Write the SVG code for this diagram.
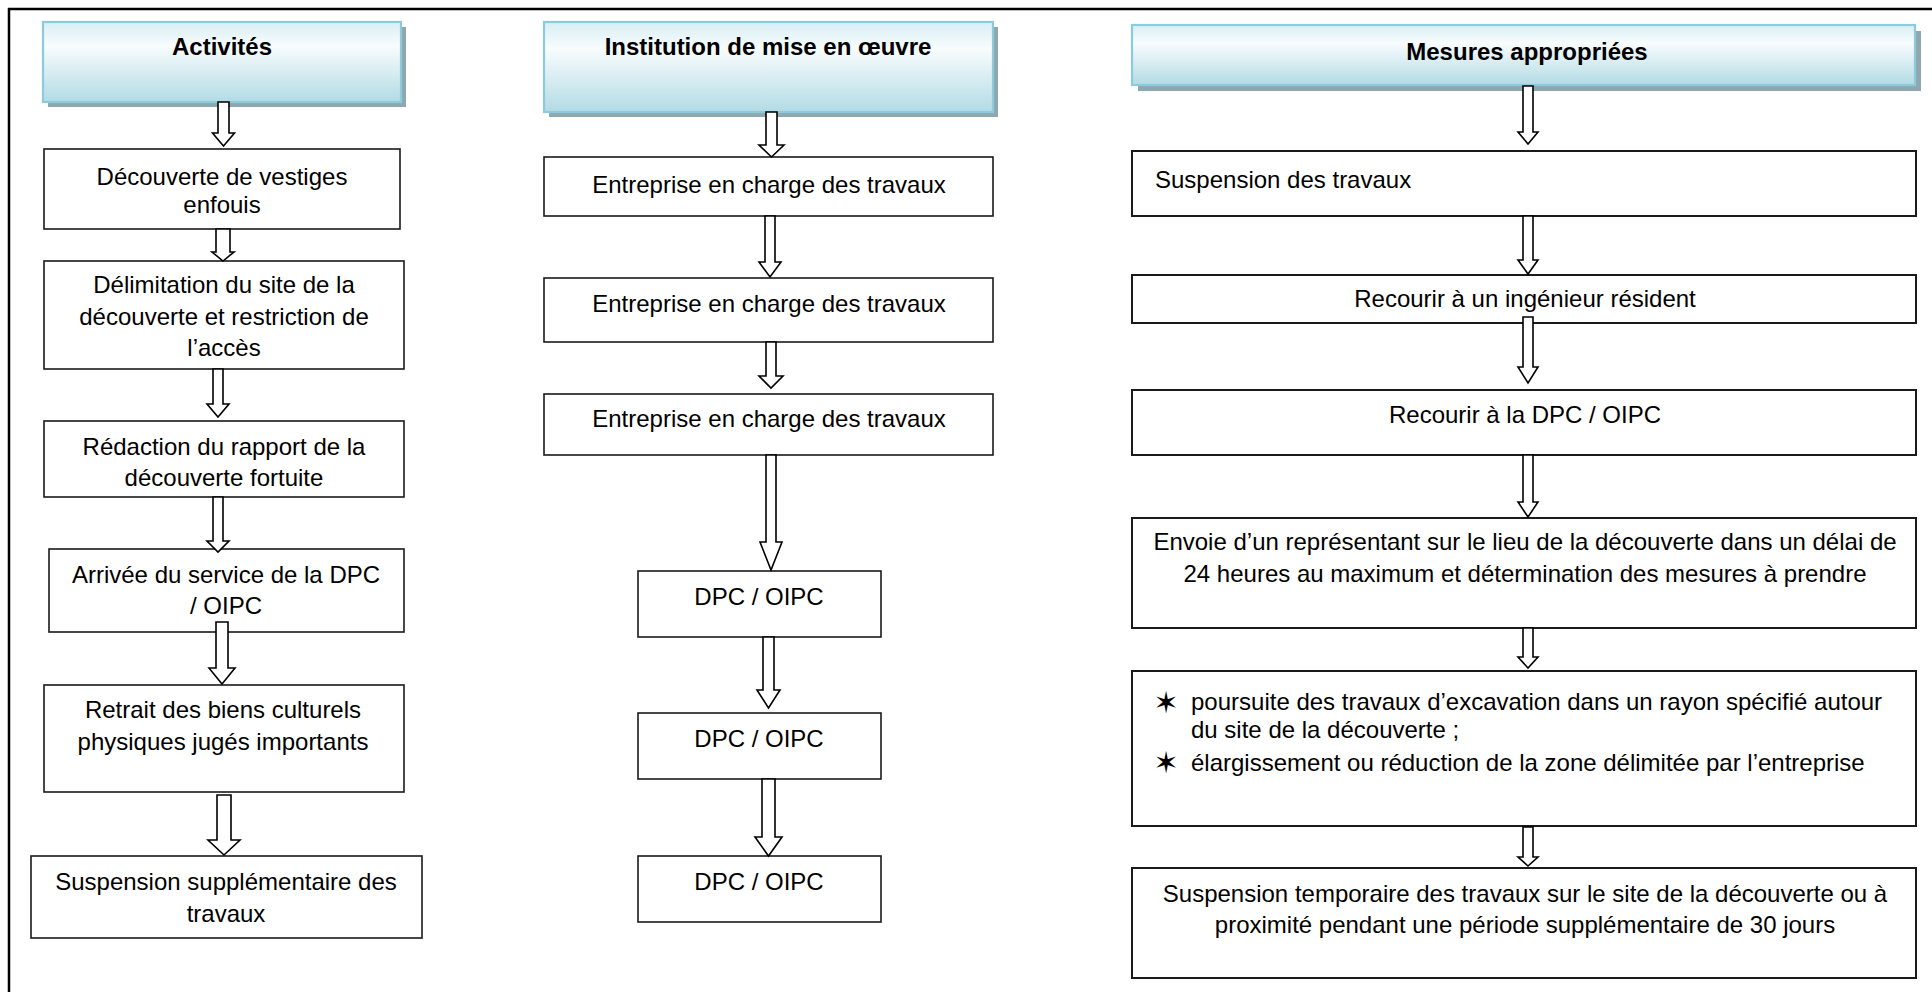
<svg xmlns="http://www.w3.org/2000/svg" width="1932" height="992" viewBox="0 0 1932 992">
<style>
.bg{fill:#ffffff}
.frame{stroke:#000;stroke-width:2.5;fill:none}
.box{fill:#fff;stroke:#1a1a1a;stroke-width:1.6}
.box3{fill:#fff;stroke:#1a1a1a;stroke-width:2}
.hdr{fill:url(#hg);stroke:#8ccbdc;stroke-width:2.2}
.shadow{fill:#8fa8b0}
.t{font-family:"Liberation Sans",Arial,sans-serif;font-size:24px;fill:#000}
.c{text-anchor:middle}
.b{font-weight:bold}
.star{font-family:"DejaVu Sans",sans-serif;font-size:30px;font-weight:bold;fill:#000;text-anchor:middle}
.arrow{fill:#fff;stroke:#000;stroke-width:1.6;stroke-linejoin:miter}
</style>
<defs>
<linearGradient id="hg" x1="0" y1="0" x2="0" y2="1">
<stop offset="0" stop-color="#d8eef4"/>
<stop offset="0.3" stop-color="#f8fcfd"/>
<stop offset="1" stop-color="#b2dbe5"/>
</linearGradient>
</defs>
<rect class="bg" x="0" y="0" width="1932" height="992"/>
<g id="frame">
<line class="frame" x1="8" y1="9" x2="1932" y2="9"/>
<line class="frame" x1="9" y1="8" x2="9" y2="992"/>
</g>

<g id="h1">
<rect class="shadow" x="48" y="27" width="358" height="80"/>
<rect class="hdr" x="43" y="22" width="358" height="80"/>
<text class="t c b" x="222" y="55">Activités</text>
</g>
<g id="h2">
<rect class="shadow" x="549" y="27" width="449" height="90"/>
<rect class="hdr" x="544" y="22" width="449" height="90"/>
<text class="t c b" x="768" y="55">Institution de mise en œuvre</text>
</g>
<g id="h3">
<rect class="shadow" x="1138" y="31" width="783" height="60"/>
<rect class="hdr" x="1132" y="25" width="783" height="60"/>
<text class="t c b" x="1527" y="60">Mesures appropriées</text>
</g>

<g id="a1">
<rect class="box" x="44" y="149" width="356" height="80"/>
<text class="t c" x="222" y="185">Découverte de vestiges</text>
<text class="t c" x="222" y="213">enfouis</text>
</g>
<g id="a2">
<rect class="box" x="44" y="261" width="360" height="108"/>
<text class="t c" x="224" y="293">Délimitation du site de la</text>
<text class="t c" x="224" y="325">découverte et restriction de</text>
<text class="t c" x="224" y="356">l’accès</text>
</g>
<g id="a3">
<rect class="box" x="44" y="421" width="360" height="76"/>
<text class="t c" x="224" y="455">Rédaction du rapport de la</text>
<text class="t c" x="224" y="486">découverte fortuite</text>
</g>
<g id="a4">
<rect class="box" x="49" y="549" width="355" height="83"/>
<text class="t c" x="226" y="583">Arrivée du service de la DPC</text>
<text class="t c" x="226" y="614">/ OIPC</text>
</g>
<g id="a5">
<rect class="box" x="44" y="685" width="360" height="107"/>
<text class="t c" x="223" y="718">Retrait des biens culturels</text>
<text class="t c" x="223" y="750">physiques jugés importants</text>
</g>
<g id="a6">
<rect class="box" x="31" y="856" width="391" height="82"/>
<text class="t c" x="226" y="890">Suspension supplémentaire des</text>
<text class="t c" x="226" y="922">travaux</text>
</g>

<g id="b1">
<rect class="box" x="544" y="157" width="449" height="59"/>
<text class="t c" x="769" y="193">Entreprise en charge des travaux</text>
</g>
<g id="b2">
<rect class="box" x="544" y="278" width="449" height="64"/>
<text class="t c" x="769" y="312">Entreprise en charge des travaux</text>
</g>
<g id="b3">
<rect class="box" x="544" y="394" width="449" height="61"/>
<text class="t c" x="769" y="427">Entreprise en charge des travaux</text>
</g>
<g id="b4">
<rect class="box" x="638" y="571" width="243" height="66"/>
<text class="t c" x="759" y="605">DPC / OIPC</text>
</g>
<g id="b5">
<rect class="box" x="638" y="713" width="243" height="66"/>
<text class="t c" x="759" y="747">DPC / OIPC</text>
</g>
<g id="b6">
<rect class="box" x="638" y="856" width="243" height="66"/>
<text class="t c" x="759" y="890">DPC / OIPC</text>
</g>

<g id="c1">
<rect class="box3" x="1132" y="151" width="784" height="65"/>
<text class="t" x="1155" y="188">Suspension des travaux</text>
</g>
<g id="c2">
<rect class="box3" x="1132" y="275" width="784" height="48"/>
<text class="t c" x="1525" y="307">Recourir à un ingénieur résident</text>
</g>
<g id="c3">
<rect class="box3" x="1132" y="390" width="784" height="65"/>
<text class="t c" x="1525" y="423">Recourir à la DPC / OIPC</text>
</g>
<g id="c4">
<rect class="box3" x="1132" y="518" width="784" height="110"/>
<text class="t c" x="1525" y="550">Envoie d’un représentant sur le lieu de la découverte dans un délai de</text>
<text class="t c" x="1525" y="582">24 heures au maximum et détermination des mesures à prendre</text>
</g>
<g id="c5">
<rect class="box3" x="1132" y="671" width="784" height="155"/>
<text class="star" x="1166" y="713">✶</text>
<text class="t" x="1191" y="710">poursuite des travaux d’excavation dans un rayon spécifié autour</text>
<text class="t" x="1191" y="738">du site de la découverte ;</text>
<text class="star" x="1166" y="773">✶</text>
<text class="t" x="1191" y="771">élargissement ou réduction de la zone délimitée par l’entreprise</text>
</g>
<g id="c6">
<rect class="box3" x="1132" y="868" width="784" height="110"/>
<text class="t c" x="1525" y="902">Suspension temporaire des travaux sur le site de la découverte ou à</text>
<text class="t c" x="1525" y="933">proximité pendant une période supplémentaire de 30 jours</text>
</g>

<g id="connectors">
<polygon class="arrow" points="218,102 229,102 229,133 234.5,133 223.5,146 212.5,133 218,133"/>
<polygon class="arrow" points="216,229 230,229 230,252 234,252 223,261 212,252 216,252"/>
<polygon class="arrow" points="213,369 223,369 223,404 229,404 218,417 207,404 213,404"/>
<polygon class="arrow" points="213,497 223,497 223,541 229,541 218,552 207,541 213,541"/>
<polygon class="arrow" points="216,622 228,622 228,668 235,668 222,684 209,668 216,668"/>
<polygon class="arrow" points="217,795 231,795 231,840 240,840 224,855 208,840 217,840"/>

<polygon class="arrow" points="766,112 777,112 777,145 784,145 771.5,157 759,145 766,145"/>
<polygon class="arrow" points="765,216 775,216 775,262 781,262 770,277 759,262 765,262"/>
<polygon class="arrow" points="766,342 776,342 776,376 783,376 771,388 759,376 766,376"/>
<polygon class="arrow" points="766,455 776,455 776,542 782,542 771,570 760,542 766,542"/>
<polygon class="arrow" points="763,637 774,637 774,690 780,690 768.5,708 757,690 763,690"/>
<polygon class="arrow" points="762,779 775,779 775,837 782,837 768.5,856 755,837 762,837"/>

<polygon class="arrow" points="1523,86 1533,86 1533,132 1538,132 1528,144 1518,132 1523,132"/>
<polygon class="arrow" points="1523,216 1533,216 1533,260 1538,260 1528,274 1518,260 1523,260"/>
<polygon class="arrow" points="1523,317 1533,317 1533,367 1538,367 1528,383 1518,367 1523,367"/>
<polygon class="arrow" points="1523,455 1533,455 1533,502 1538,502 1528,517 1518,502 1523,502"/>
<polygon class="arrow" points="1523,628 1533,628 1533,657 1538,657 1528,668 1518,657 1523,657"/>
<polygon class="arrow" points="1523,827 1533,827 1533,857 1538,857 1528,866 1518,857 1523,857"/>
</g>
</svg>
